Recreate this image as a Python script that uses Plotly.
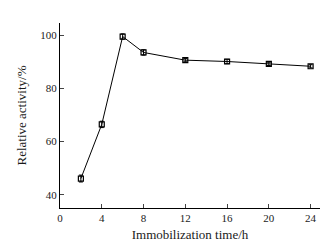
import plotly.graph_objects as go

time_h = [2, 4, 6, 8, 12, 16, 20, 24]
activity = [46.1, 66.5, 99.6, 93.6, 90.7, 90.2, 89.3, 88.4]
error = [1.3, 1.2, 1.0, 1.0, 0.6, 0.8, 0.6, 0.6]
x_ticks = [0, 4, 8, 12, 16, 20, 24]
y_ticks = [40, 60, 80, 100]

font = dict(family="Liberation Serif, Times New Roman, serif", size=11, color="#1a1a1a")

fig = go.Figure(go.Scatter(
    x=time_h, y=activity, mode="lines+markers",
    line=dict(color="black", width=1),
    marker=dict(symbol="square-open", size=5, color="black", line=dict(width=1.2)),
    error_y=dict(type="data", array=error, color="black", thickness=1, width=2),
))

fig.update_layout(
    width=328, height=243,
    margin=dict(l=52, r=16, t=15, b=36),
    paper_bgcolor="white", plot_bgcolor="white",
    showlegend=False, font=font,
    xaxis=dict(range=[0, 24.9], tickvals=x_ticks, ticks="inside", ticklen=4,
               showline=True, linecolor="black", linewidth=1, showgrid=False, zeroline=False,
               title=dict(text="Immobilization time/h", standoff=6), tickfont=font),
    yaxis=dict(range=[35, 104.7], tickvals=y_ticks, ticks="inside", ticklen=4,
               showline=True, linecolor="black", linewidth=1, showgrid=False, zeroline=False,
               title=dict(text="Relative activity/%", standoff=10), tickfont=font),
)

fig.write_html("out.html")
